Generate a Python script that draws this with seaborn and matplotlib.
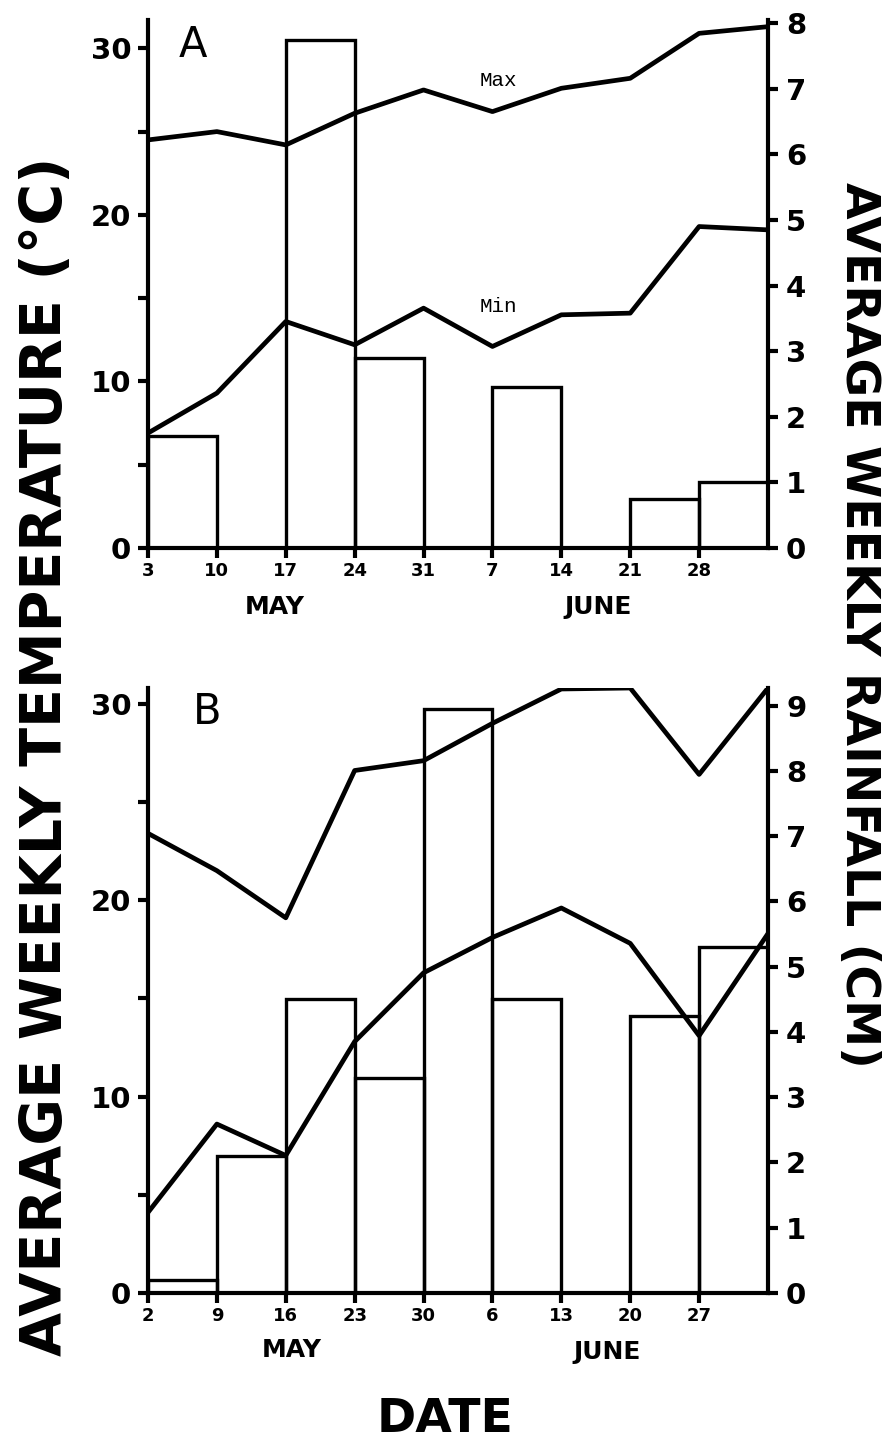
import matplotlib
matplotlib.use("Agg")
import matplotlib.pyplot as plt
import seaborn as sns
import numpy as np
import pandas as pd

sns.set_theme(style="ticks")
plt.rcParams['font.family'] = ['DejaVu Sans']
plt.rcParams['text.color'] = 'black'

# Panel A: weeks beginning 3 May
a_dates = ["3", "10", "17", "24", "31", "7", "14", "21", "28"]
a_max = [24.5, 25.0, 24.2, 26.1, 27.5, 26.2, 27.6, 28.2, 30.9, 31.3]
a_min = [6.9, 9.3, 13.6, 12.2, 14.4, 12.1, 14.0, 14.1, 19.3, 19.1]
a_rain = [1.7, 0.0, 7.75, 2.9, 0.0, 2.45, 0.0, 0.75, 1.0]

# Panel B: weeks beginning 2 May
b_dates = ["2", "9", "16", "23", "30", "6", "13", "20", "27"]
b_max = [23.4, 21.5, 19.1, 26.6, 27.1, 29.0, 30.75, 30.8, 26.4, 30.8]
b_min = [4.1, 8.6, 7.0, 12.8, 16.3, 18.1, 19.6, 17.8, 13.1, 18.3]
b_rain = [0.2, 2.1, 4.5, 3.3, 8.95, 4.5, 0.0, 4.25, 5.3]

W, H = 891, 1451
fig = plt.figure(figsize=(W / 100, H / 100), dpi=100)
fig.patch.set_facecolor("white")


def px(x, y):
    return x / W, 1 - y / H


def panel(rect, dates, tmax, tmin, rain, t_top, r_top, r_ticks):
    ax = fig.add_axes(rect)
    ax.set_facecolor("none")
    ax2 = ax.twinx()
    ax2.set_facecolor("none")

    weeks = np.arange(len(tmax))
    mids = np.arange(len(rain)) + 0.5

    # weekly rainfall as open bars on the right axis
    rain_df = pd.DataFrame({"week": mids, "rain": rain})
    sns.barplot(data=rain_df, x="week", y="rain", ax=ax2, native_scale=True,
                width=1.0, fill=False, color="black", linewidth=2.4,
                edgecolor="black", errorbar=None)

    # weekly max / min temperature on the left axis
    temp_df = pd.DataFrame({"week": np.concatenate([weeks, weeks]),
                            "temp": tmax + tmin,
                            "kind": ["max"] * len(tmax) + ["min"] * len(tmin)})
    sns.lineplot(data=temp_df, x="week", y="temp", units="kind",
                 estimator=None, ax=ax, color="black", linewidth=3.4,
                 solid_joinstyle="round")

    for a in (ax, ax2):
        a.set_xlim(0, 9)
        a.set_xlabel("")
        a.set_ylabel("")
        for s in a.spines.values():
            s.set_linewidth(3)
            s.set_color("black")
        a.spines["top"].set_visible(False)

    ax.set_ylim(0, t_top)
    ax2.set_ylim(0, r_top)
    ax.spines["right"].set_visible(False)
    ax2.spines["left"].set_visible(False)
    ax2.spines["bottom"].set_visible(False)

    ax.set_yticks([0, 10, 20, 30])
    ax.set_yticklabels(["0", "10", "20", "30"])
    ax.set_yticks([5, 15, 25], minor=True)
    ax.tick_params(axis="y", which="both", left=True, direction="out",
                   length=7, width=3, labelsize=21, pad=5, colors="black")
    for t in ax.get_yticklabels():
        t.set_fontweight("bold")

    ax2.set_yticks(r_ticks)
    ax2.set_yticklabels([str(v) for v in r_ticks])
    ax2.tick_params(axis="y", right=True, direction="out", length=7,
                    width=3, labelsize=21, pad=6, colors="black")
    for t in ax2.get_yticklabels():
        t.set_fontweight("bold")

    ax.set_xticks(np.arange(len(dates)))
    ax.set_xticklabels(dates)
    ax.tick_params(axis="x", bottom=True, direction="out", length=7,
                   width=3, labelsize=13, pad=3, colors="black")
    for t in ax.get_xticklabels():
        t.set_fontweight("bold")
    ax2.tick_params(axis="x", bottom=False, top=False, labelbottom=False)
    return ax, ax2


rectA = [148 / W, 1 - 548 / H, 620 / W, 528 / H]
rectB = [148 / W, 1 - 1293 / H, 620 / W, 605 / H]

axA, axA2 = panel(rectA, a_dates, a_max, a_min, a_rain, 31.7, 8.05, list(range(0, 9)))
axB, axB2 = panel(rectB, b_dates, b_max, b_min, b_rain, 30.8, 9.27, list(range(0, 10)))

# panel letters
fig.text(*px(193, 45), "A", fontsize=30, ha="center", va="center")
fig.text(*px(207, 712), "B", fontsize=30, ha="center", va="center")

# series labels
fig.text(*px(498, 80), "Max", fontsize=15, family="Liberation Mono",
         ha="center", va="center")
fig.text(*px(498, 306), "Min", fontsize=15, family="Liberation Mono",
         ha="center", va="center")

# month labels
fig.text(*px(275, 607), "MAY", fontsize=18, fontweight="bold", ha="center", va="center")
fig.text(*px(598, 607), "JUNE", fontsize=18, fontweight="bold", ha="center", va="center")
fig.text(*px(292, 1350), "MAY", fontsize=18, fontweight="bold", ha="center", va="center")
fig.text(*px(607, 1352), "JUNE", fontsize=18, fontweight="bold", ha="center", va="center")

# axis titles
fig.text(*px(47, 756), "AVERAGE WEEKLY TEMPERATURE (°C)", fontsize=41,
         fontweight="bold", rotation=90, ha="center", va="center")
fig.text(*px(858, 625), "AVERAGE WEEKLY RAINFALL (CM)", fontsize=34,
         fontweight="bold", rotation=-90, ha="center", va="center")
fig.text(*px(445, 1420), "DATE", fontsize=34, fontweight="bold",
         ha="center", va="center")

fig.savefig("out.png", dpi=100, facecolor="white")
